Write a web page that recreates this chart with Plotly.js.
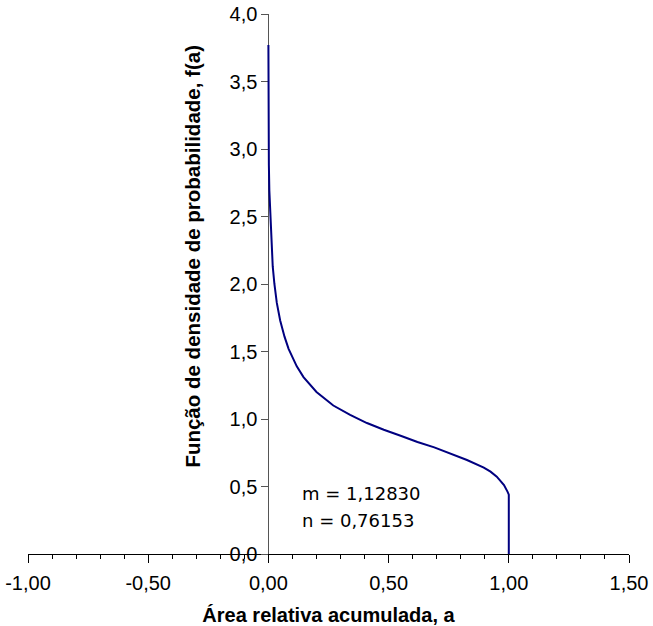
<!DOCTYPE html>
<html>
<head>
<meta charset="utf-8">
<script src="https://cdn.plot.ly/plotly-3.0.1.min.js"></script>
<style>html,body{margin:0;padding:0;background:#fff;}#chart{width:653px;height:626px;}</style>
</head>
<body>
<div id="chart"></div>
<script>
// Cumulative relative area a and probability density f(a)
const areaA = [0, 0.000, 0.002, 0.004, 0.008, 0.012, 0.018, 0.025, 0.035, 0.049, 0.067, 0.084, 0.105, 0.118, 0.146, 0.174, 0.200, 0.270, 0.340, 0.410, 0.480, 0.550, 0.620, 0.690, 0.757, 0.826, 0.896, 0.924, 0.950, 0.963, 0.980, 0.995, 1.000, 1.000];
const densF = [3.77, 3.00, 2.88, 2.69, 2.50, 2.27, 2.13, 2.00, 1.86, 1.73, 1.61, 1.52, 1.44, 1.39, 1.31, 1.25, 1.20, 1.10, 1.03, 0.97, 0.92, 0.876, 0.83, 0.79, 0.746, 0.696, 0.64, 0.61, 0.573, 0.548, 0.51, 0.46, 0.44, 0];
const xTickVals = [-1, -0.5, 0, 0.5, 1, 1.5];
const xTickLabels = ["-1,00", "-0,50", "0,00", "0,50", "1,00", "1,50"];
const paramLabels = ["m = 1,12830", "n = 0,76153"];
const xTitle = "Área relativa acumulada, a";
const yTitle = "Função de densidade de probabilidade, f(a)";

const tickFont = {family: "Liberation Sans, Arial, sans-serif", size: 20, color: "#000"};
const titleFont = {family: "Liberation Sans, Arial, sans-serif", size: 20, color: "#000", weight: "bold"};
const yTitleFont = {family: "Liberation Sans, Arial, sans-serif", size: 20.5, color: "#000", weight: "bold"};
const noteFont = {family: "DejaVu Sans, sans-serif", size: 18, color: "#000"};

const trace = {
  x: areaA, y: densF, type: "scatter", mode: "lines",
  line: {color: "#000080", width: 2}, hoverinfo: "skip"
};

const layout = {
  width: 653, height: 626,
  margin: {l: 28, r: 24, t: 14, b: 72},
  paper_bgcolor: "#fff", plot_bgcolor: "#fff",
  separators: ", ",
  showlegend: false,
  xaxis: {
    range: [-1, 1.5], tickmode: "array", tickvals: xTickVals, ticktext: xTickLabels,
    showgrid: false, zeroline: false,
    showline: true, linecolor: "#000", linewidth: 1,
    ticks: "outside", ticklen: 8, tickcolor: "#000", tickwidth: 1,
    minor: {tickmode: "linear", tick0: 0, dtick: 0.1, ticks: "outside", ticklen: 4, tickcolor: "#000", showgrid: false},
    tickfont: tickFont,
    ticklabelstandoff: 3,
    layer: "below traces",
    title: {text: xTitle, font: titleFont, standoff: 14}
  },
  yaxis: {
    range: [0, 4], dtick: 0.5, tick0: 0, tickformat: ".1f",
    anchor: "free", position: 0.4,
    showgrid: false, zeroline: false,
    showline: true, linecolor: "#555", linewidth: 1,
    ticks: "outside", ticklen: 7, tickcolor: "#555", tickwidth: 1,
    tickfont: tickFont,
    layer: "below traces"
  },
  annotations: [
    {text: yTitle, xref: "paper", yref: "paper", x: 0.274, y: 0.552, xanchor: "center", yanchor: "middle",
     textangle: -90, showarrow: false, font: yTitleFont},
    {text: paramLabels[0], xref: "x", yref: "y", x: 0.13, y: 0.45, xanchor: "left", yanchor: "middle",
     showarrow: false, font: noteFont},
    {text: paramLabels[1], xref: "x", yref: "y", x: 0.13, y: 0.25, xanchor: "left", yanchor: "middle",
     showarrow: false, font: noteFont}
  ]
};

Plotly.newPlot("chart", [trace], layout, {displayModeBar: false, staticPlot: true});
</script>
</body>
</html>
